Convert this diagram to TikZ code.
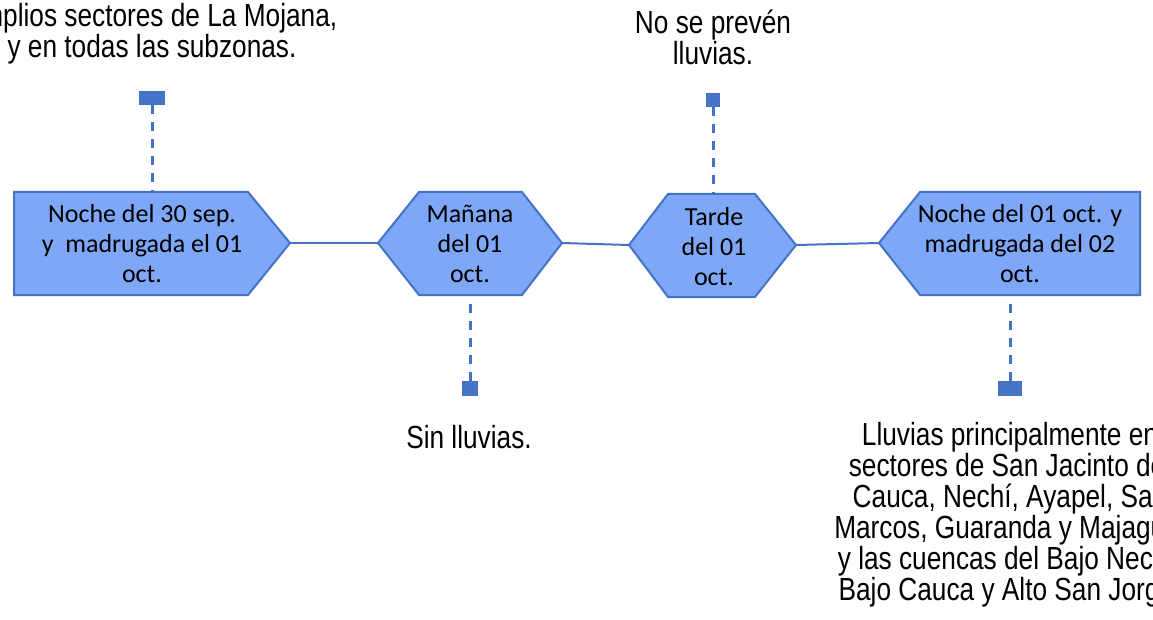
\documentclass[tikz,border=0pt]{standalone}
\usepackage{fontspec}
\setmainfont{Carlito}
\newfontfamily\narrowfont[FakeStretch=0.82]{Liberation Sans}
\definecolor{boxblue}{HTML}{7FA7F7}
\definecolor{edgeblue}{HTML}{4472C4}
\tikzset{
  stage/.style={draw=edgeblue, fill=boxblue, line width=2pt, line join=miter},
  stagetext/.style={font=\fontsize{26}{30}\selectfont, align=center, inner sep=0pt},
  link/.style={draw=edgeblue, line width=2pt},
  tick/.style={draw=edgeblue, line width=3pt, dash pattern=on 9pt off 8pt},
  tag/.style={fill=edgeblue, inner sep=0pt},
  note/.style={font=\narrowfont\fontsize{32}{31}\selectfont, align=center, inner sep=0pt}
}

\begin{document}
\begin{tikzpicture}[x=1pt, y=-1pt]
			%%%%% START %%%%%
			\clip (0,0) rectangle (1153,620);
			\fill[white] (0,0) rectangle (1153,620);
			
			\node[tag, minimum width=26pt, minimum height=14pt] (tag1) at (152,98) {};
			\node[tag, minimum width=16pt, minimum height=15pt] (tag2) at (470,388.5) {};
			\node[tag, minimum width=14pt, minimum height=14pt] (tag3) at (713,100) {};
			\node[tag, minimum width=24pt, minimum height=15pt] (tag4) at (1010,388.5) {};
			
			\coordinate (night1-n) at (152,192);
			\coordinate (morning-s) at (470,295);
			\coordinate (afternoon-n) at (713,194);
			\coordinate (night2-s) at (1010,295);
			
			\draw[tick] (tag1.south) -- (night1-n);
			\draw[tick] (tag2.north) -- (morning-s);
			\draw[tick] (tag3.south) -- (afternoon-n);
			\draw[tick] (tag4.north) -- (night2-s);
			
			\draw[stage] (14,192) -- (248,192) -- (290,243) coordinate (night1-e) -- (248,295) -- (14,295) -- cycle;
			\draw[stage] (378,243) coordinate (morning-w) -- (419,192) -- (522,192) -- (562,243) coordinate (morning-e) -- (522,295) -- (419,295) -- cycle;
			\draw[stage] (629,245) coordinate (afternoon-w) -- (668,194) -- (755,194) -- (796,245) coordinate (afternoon-e) -- (755,297) -- (668,297) -- cycle;
			\draw[stage] (879,243) coordinate (night2-w) -- (920,192) -- (1140,192) -- (1140,295) -- (920,295) -- cycle;
			
			\draw[link] (night1-e) -- (morning-w);
			\draw[link] (morning-e) -- (afternoon-w);
			\draw[link] (afternoon-e) -- (night2-w);
			
			\node[stagetext] (night1) at (142,244) {Noche del 30 sep.\\y\ \ madrugada el 01\\oct.};
			\node[stagetext] (morning) at (470,244) {Mañana\\del 01\\oct.};
			\node[stagetext] (afternoon) at (714,247) {Tarde\\del 01\\oct.};
			\node[stagetext] (night2) at (1020,244) {Noche del 01 oct. y\\madrugada del 02\\oct.};
			
			\node[note] (rain1) at (152,34) {amplios sectores de La Mojana,\\y en todas las subzonas.};
			\node[note] (rain2) at (469,437) {Sin lluvias.};
			\node[note] (rain3) at (713,37) {No se prevén\\lluvias.};
			\node[note] (rain4) at (1010,515) {Lluvias principalmente en\\sectores de San Jacinto del\\Cauca, Nechí, Ayapel, San\\Marcos, Guaranda y Majagual\\y las cuencas del Bajo Nechí,\\Bajo Cauca y Alto San Jorge.};
			
			%%%%% END %%%%%
		\end{tikzpicture}
\end{document}
